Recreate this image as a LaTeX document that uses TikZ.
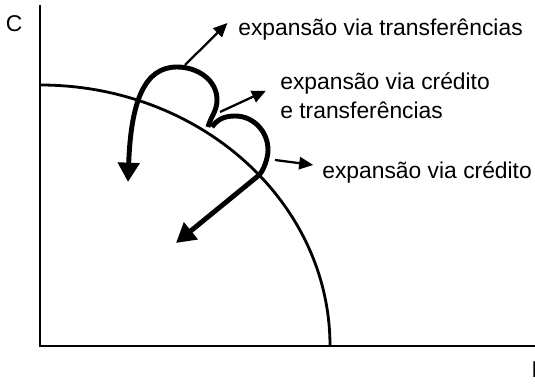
\documentclass[tikz,border=0pt]{standalone}
\usepackage{fontspec}
\setmainfont{Liberation Sans}
\usetikzlibrary{arrows.meta,positioning}
\tikzset{
  axisline/.style={line width=0.9pt},
  frontier/.style={line width=1.6pt},
  pathline/.style={line width=2.8pt,-{Triangle[length=11pt,width=12pt]}},
  pointer/.style={line width=1.3pt,-{Triangle[length=8pt,width=7pt]}},
  lab/.style={font=\fontsize{13}{16.5}\selectfont,align=left,inner sep=0pt,anchor=west},
  axlab/.style={font=\fontsize{13}{15}\selectfont,inner sep=0pt}
}
\begin{document}
\begin{tikzpicture}[x=0.02cm,y=-0.02cm]
\useasboundingbox (0,0) rectangle (535,384);
% axes
\coordinate (O) at (40,346);
\draw[axisline] (40,5)--(O)--(535,346);
\node[axlab] (C) at (14,24) {C};
\node[axlab,anchor=north west] (I) at (531,361) {I};
% frontier
\draw[frontier] (40,85) arc[start angle=90,end angle=0,x radius=290,y radius=-261];
% expansion paths
\draw[pathline] (208,127) to[out=75,in=-90] (217,100) to[out=90,in=0] (177,67)
  .. controls (145,67) and (131,100) .. (128,182);
\draw[pathline] (212,127) to[out=55,in=180] (235,116) to[out=0,in=90] (268,150)
  to[out=-90,in=40,looseness=0.7] (258,176) -- (176,243);
% labels
\node[lab] (t1) at (238,30) {expansão via transferências};
\node[lab] (t2) at (280,96) {expansão via crédito\\e transferências};
\node[lab] (t3) at (322,172) {expansão via crédito};
\coordinate (p1) at (185,65);
\coordinate (p2) at (220,112);
\coordinate (p3) at (275,160);
\draw[pointer] (p1)--([xshift=-6pt,yshift=4pt]t1.west);
\draw[pointer] (p2)--([xshift=-8pt,yshift=3pt]t2.west);
\draw[pointer] (p3)--([xshift=-5pt,yshift=4pt]t3.west);
\end{tikzpicture}
\end{document}
